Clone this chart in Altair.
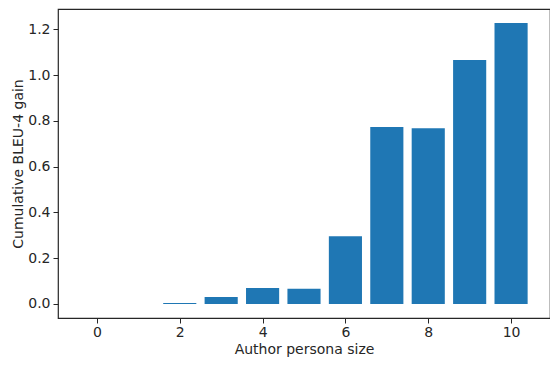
import altair as alt
import pandas as pd

sizes = [0, 1, 2, 3, 4, 5, 6, 7, 8, 9, 10]
gains = [0.0, 0.0, 0.004, 0.030, 0.070, 0.066, 0.296, 0.773, 0.767, 1.066, 1.227]
x_ticks = [0, 2, 4, 6, 8, 10]
y_ticks = [0.0, 0.2, 0.4, 0.6, 0.8, 1.0, 1.2]

df = pd.DataFrame({"size": sizes, "gain": gains})

FONT = "DejaVu Sans"
TXT = "#262626"

chart = (
    alt.Chart(df)
    .transform_calculate(x0="datum.size - 0.4", x1="datum.size + 0.4")
    .mark_bar(color="#1f77b4")
    .encode(
        x=alt.X(
            "x0:Q",
            scale=alt.Scale(domain=[-0.94, 10.94], nice=False, zero=False),
            axis=alt.Axis(values=x_ticks, format="d", title="Author persona size",
                          labelPadding=2, titlePadding=3),
        ),
        x2="x1:Q",
        y=alt.Y(
            "gain:Q",
            scale=alt.Scale(domain=[-0.0614, 1.2884], nice=False, zero=False),
            axis=alt.Axis(values=y_ticks, format=".1f", title="Cumulative BLEU-4 gain",
                          labelPadding=3, titlePadding=2),
        ),
        y2=alt.datum(0),
    )
    .properties(
        width=492,
        height=309,
        autosize=alt.AutoSizeParams(type="none"),
        padding={"left": 50, "top": 1, "right": 0, "bottom": 43},
    )
    .configure_view(stroke=TXT, strokeWidth=1.2)
    .configure_axis(
        grid=False,
        domain=False,
        ticks=True,
        tickSize=5,
        tickColor=TXT,
        tickWidth=1,
        labelFont=FONT,
        labelFontSize=14,
        labelColor=TXT,
        titleFont=FONT,
        titleFontSize=14,
        titleFontWeight="normal",
        titleColor=TXT,
    )
)

chart.save("out.html", embed_options={"renderer": "svg", "actions": False})
